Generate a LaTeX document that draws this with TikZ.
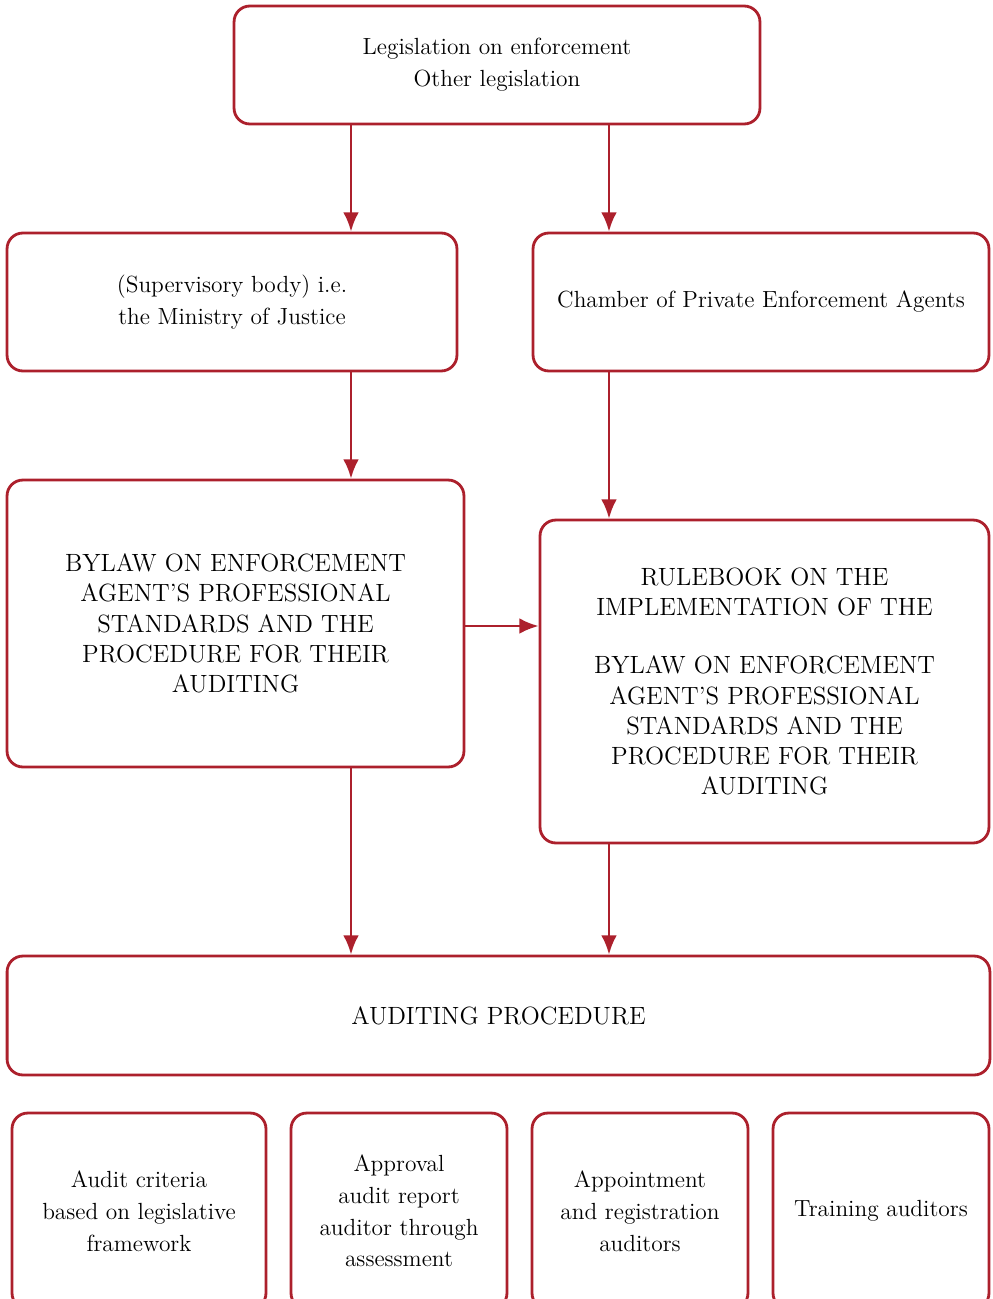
\documentclass[tikz,border=0pt]{standalone}
\usetikzlibrary{arrows.meta}
\definecolor{auditred}{RGB}{172,32,44}

\begin{document}
\begin{tikzpicture}[x=0.02cm, y=-0.02cm]
    \tikzset{box/.style={draw=auditred, line width=1.6pt, rounded corners=9pt,
            align=center, inner sep=0pt, font=\fontsize{13.3}{18.1}\selectfont},
        caps box/.style={box, font=\fontsize{14.2}{17.2}\selectfont},
        arc lines/.style={draw=auditred, line width=1.5pt,
            -{Latex[length=11pt, width=9pt]}}}
    \useasboundingbox (0, 0) rectangle (992, 1299);
    \clip (0, 0) rectangle (992, 1299);
    % \draw (0, 0) grid (992, 1299);
    \coordinate (c1) at (351, 0);
    \coordinate (c2) at (609, 0);
    \node [box, minimum width=10.52cm, minimum height=2.36cm] (laws) at (497, 65)
        {Legislation on enforcement\\Other legislation};
    \node [box, minimum width=9cm, minimum height=2.76cm] (ministry) at (232, 302)
        {(Supervisory body) i.e.\\the Ministry of Justice};
    \node [box, minimum width=9.12cm, minimum height=2.76cm] (chamber) at (761, 302)
        {Chamber of Private Enforcement Agents};
    \node [caps box, minimum width=9.14cm, minimum height=5.74cm] (bylaw) at (235.5, 623.5)
        {BYLAW ON ENFORCEMENT\\AGENT'S PROFESSIONAL\\STANDARDS AND THE\\PROCEDURE FOR THEIR\\AUDITING};
    \node [caps box, minimum width=8.98cm, minimum height=6.46cm] (rulebook) at (764.5, 681.5)
        {RULEBOOK ON THE\\IMPLEMENTATION OF THE\\[16pt]BYLAW ON ENFORCEMENT\\AGENT'S PROFESSIONAL\\STANDARDS AND THE\\PROCEDURE FOR THEIR\\AUDITING};
    \node [caps box, minimum width=19.66cm, minimum height=2.38cm] (procedure) at (498.5, 1015.5)
        {AUDITING PROCEDURE};
    \node [box, minimum width=5.08cm, minimum height=3.92cm] (criteria) at (139, 1211)
        {Audit criteria\\based on legislative\\framework};
    \node [box, minimum width=4.32cm, minimum height=3.92cm] (approval) at (399, 1211)
        {Approval\\audit report\\auditor through\\assessment};
    \node [box, minimum width=4.32cm, minimum height=3.92cm] (appoint) at (640, 1211)
        {Appointment\\and registration\\auditors};
    \node [box, minimum width=4.32cm, minimum height=3.92cm] (training) at (881, 1211)
        {Training auditors};
    \draw [arc lines] (laws.south -| c1) -- (ministry.north -| c1);
    \draw [arc lines] (laws.south -| c2) -- (chamber.north -| c2);
    \draw [arc lines] (ministry.south -| c1) -- (bylaw.north -| c1);
    \draw [arc lines] (chamber.south -| c2) -- (rulebook.north -| c2);
    \draw [arc lines] (bylaw.east |- 0, 626) -- (rulebook.west |- 0, 626);
    \draw [arc lines] (bylaw.south -| c1) -- (procedure.north -| c1);
    \draw [arc lines] (rulebook.south -| c2) -- (procedure.north -| c2);
\end{tikzpicture}
\end{document}
